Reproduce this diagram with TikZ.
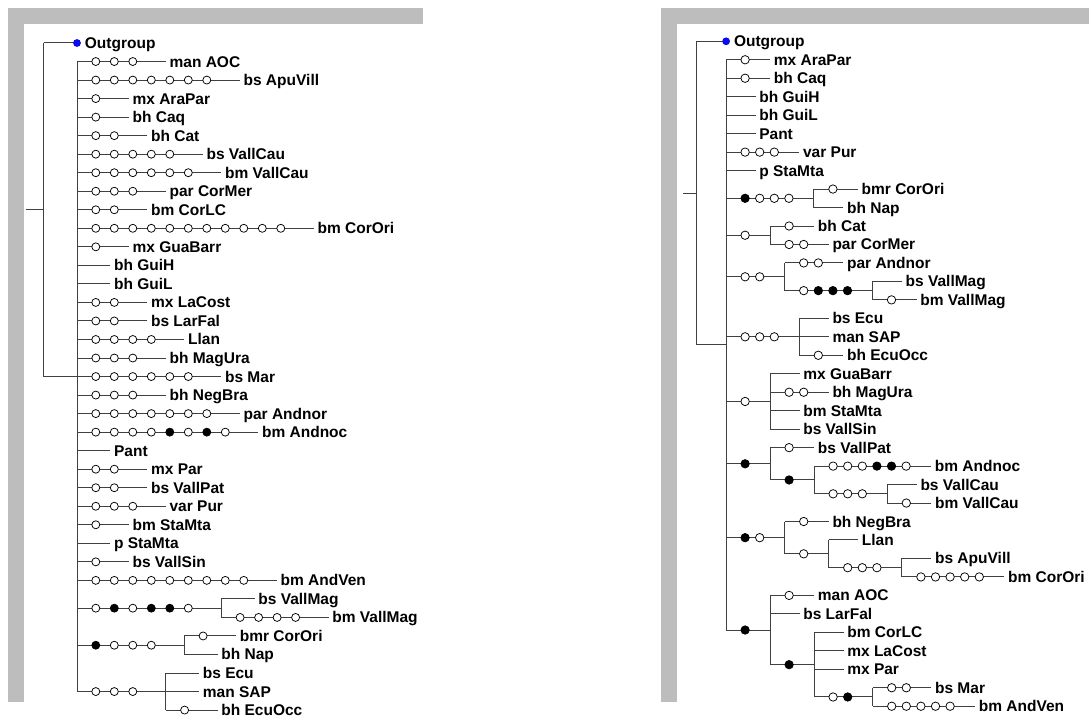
\documentclass[tikz,border=0pt]{standalone}
\usepackage{fontspec}
\setmainfont{Liberation Sans}
\definecolor{linegray}{RGB}{64,64,64}
\definecolor{framegray}{RGB}{189,189,189}
\definecolor{outblue}{RGB}{10,10,235}

% Xend<name>: x where the branch <name> ends
\newcommand\Xof[1]{\csname Xend#1\endcsname}

% \Twig{name}{x0}{row}{number of marks}{mark styles}
% horizontal branch starting at x0, with its character marks
\newcommand\Twig[5]{%
  \pgfmathsetmacro\ty{\RowY+\RowH*(#3)}%
  \pgfmathsetmacro\tx{#2+\CirA+\CirS*((#4)-1)+\CirT}%
  \expandafter\xdef\csname Xend#1\endcsname{\tx}%
  \coordinate (#1-a) at (#2,\ty);
  \coordinate (#1-b) at (\tx,\ty);
  \draw[edge] (#1-a) -- (#1-b);
  \ifnum#4>0
    \foreach \st [count=\k] in {#5}{%
      \node[\st] (#1-\k) at ({#2+\CirA+\CirS*(\k-1)},\ty) {};}
  \fi
}

% \Leaf{name}{x0}{row}{number of marks}{mark styles}{taxon}
\newcommand\Leaf[6]{%
  \Twig{#1}{#2}{#3}{#4}{#5}
  \node[taxon] (#1-t) at (#1-b) {#6};
}

\begin{document}
\begin{tikzpicture}[x=1pt,y=-1pt,
  edge/.style={draw=linegray,line width=1pt},
  oc/.style={circle,draw=black,fill=white,line width=0.75pt,inner sep=0pt,minimum size=\CirD pt},
  fc/.style={circle,draw=black,fill=black,line width=0.75pt,inner sep=0pt,minimum size=\CirD pt},
  outdot/.style={circle,fill=outblue,inner sep=0pt,minimum size=7.8pt},
  taxon/.style={anchor=base west,inner sep=0pt,xshift=3.6pt,yshift=-5.5pt,
    font=\bfseries\fontsize{15.5}{18}\selectfont},
  frame/.style={fill=framegray,draw=none}]

\useasboundingbox (0,0) rectangle (1089,717);

% frames
\fill[frame] (8,8) rectangle (423,24);
\fill[frame] (8,8) rectangle (24,702);
\fill[frame] (661,8) rectangle (1089,24);
\fill[frame] (661,8) rectangle (677,702);

% ---------------- left tree ----------------
\begin{scope}
\def\RowY{43}\def\RowH{18.53}
\def\CirA{18.8}\def\CirS{18.5}\def\CirT{33}\def\CirD{8}

\Twig{Lout}{43.7}{0}{0}{}
\Twig{Lin}{43.7}{18}{0}{}
\coordinate (Lroot) at (43.7,{\RowY+\RowH*9});
\coordinate (Lbase) at (26,{\RowY+\RowH*9});
\draw[edge] (Lbase) -- (Lroot);
\draw[edge] (Lout-a) -- (Lin-a);
\node[outdot] (Lout-d) at (Lout-b) {};
\node[taxon] (Lout-t) at (Lout-d.east) {Outgroup};

\Leaf{Laoc}{\Xof{Lin}}{1}{3}{oc,oc,oc}{man AOC}
\Leaf{Lapu}{\Xof{Lin}}{2}{7}{oc,oc,oc,oc,oc,oc,oc}{bs ApuVill}
\Leaf{Lara}{\Xof{Lin}}{3}{1}{oc}{mx AraPar}
\Leaf{Lcaq}{\Xof{Lin}}{4}{1}{oc}{bh Caq}
\Leaf{Lcat}{\Xof{Lin}}{5}{2}{oc,oc}{bh Cat}
\Leaf{Lvcs}{\Xof{Lin}}{6}{5}{oc,oc,oc,oc,oc}{bs VallCau}
\Leaf{Lvcm}{\Xof{Lin}}{7}{6}{oc,oc,oc,oc,oc,oc}{bm VallCau}
\Leaf{Lcme}{\Xof{Lin}}{8}{3}{oc,oc,oc}{par CorMer}
\Leaf{Lclc}{\Xof{Lin}}{9}{2}{oc,oc}{bm CorLC}
\Leaf{Lcor}{\Xof{Lin}}{10}{11}{oc,oc,oc,oc,oc,oc,oc,oc,oc,oc,oc}{bm CorOri}
\Leaf{Lgua}{\Xof{Lin}}{11}{1}{oc}{mx GuaBarr}
\Leaf{Lgh}{\Xof{Lin}}{12}{0}{}{bh GuiH}
\Leaf{Lgl}{\Xof{Lin}}{13}{0}{}{bh GuiL}
\Leaf{Llac}{\Xof{Lin}}{14}{2}{oc,oc}{mx LaCost}
\Leaf{Llar}{\Xof{Lin}}{15}{2}{oc,oc}{bs LarFal}
\Leaf{Llla}{\Xof{Lin}}{16}{4}{oc,oc,oc,oc}{Llan}
\Leaf{Lmag}{\Xof{Lin}}{17}{3}{oc,oc,oc}{bh MagUra}
\Leaf{Lmar}{\Xof{Lin}}{18}{6}{oc,oc,oc,oc,oc,oc}{bs Mar}
\Leaf{Lneg}{\Xof{Lin}}{19}{3}{oc,oc,oc}{bh NegBra}
\Leaf{Lanr}{\Xof{Lin}}{20}{7}{oc,oc,oc,oc,oc,oc,oc}{par Andnor}
\Leaf{Lanc}{\Xof{Lin}}{21}{8}{oc,oc,oc,oc,fc,oc,fc,oc}{bm Andnoc}
\Leaf{Lpan}{\Xof{Lin}}{22}{0}{}{Pant}
\Leaf{Lpar}{\Xof{Lin}}{23}{2}{oc,oc}{mx Par}
\Leaf{Lvpa}{\Xof{Lin}}{24}{2}{oc,oc}{bs VallPat}
\Leaf{Lpur}{\Xof{Lin}}{25}{3}{oc,oc,oc}{var Pur}
\Leaf{Lsbm}{\Xof{Lin}}{26}{1}{oc}{bm StaMta}
\Leaf{Lsp}{\Xof{Lin}}{27}{0}{}{p StaMta}
\Leaf{Lvsi}{\Xof{Lin}}{28}{1}{oc}{bs VallSin}
\Leaf{Lave}{\Xof{Lin}}{29}{9}{oc,oc,oc,oc,oc,oc,oc,oc,oc}{bm AndVen}

\Twig{Lvm}{\Xof{Lin}}{30.5}{6}{oc,fc,oc,fc,fc,oc}
\Leaf{Lvms}{\Xof{Lvm}}{30}{0}{}{bs VallMag}
\Leaf{Lvmm}{\Xof{Lvm}}{31}{4}{oc,oc,oc,oc}{bm VallMag}
\draw[edge] (Lvms-a) -- (Lvmm-a);

\Twig{Lcn}{\Xof{Lin}}{32.5}{4}{fc,oc,oc,oc}
\Leaf{Lbmr}{\Xof{Lcn}}{32}{1}{oc}{bmr CorOri}
\Leaf{Lnap}{\Xof{Lcn}}{33}{0}{}{bh Nap}
\draw[edge] (Lbmr-a) -- (Lnap-a);

\Twig{Lecu}{\Xof{Lin}}{35}{3}{oc,oc,oc}
\Leaf{Lecs}{\Xof{Lecu}}{34}{0}{}{bs Ecu}
\Leaf{Lsap}{\Xof{Lecu}}{35}{0}{}{man SAP}
\Leaf{Leco}{\Xof{Lecu}}{36}{1}{oc}{bh EcuOcc}
\draw[edge] (Lecs-a) -- (Leco-a);

\draw[edge] (Laoc-a) -- (Lecu-a);
\end{scope}

% ---------------- right tree ----------------
\begin{scope}
\def\RowY{41.3}\def\RowH{18.47}
\def\CirA{19}\def\CirS{14.6}\def\CirT{25}\def\CirD{8.4}

\Twig{Rout}{696.7}{0}{0}{}
\Twig{Rin}{696.7}{16.4375}{0}{}
\coordinate (Rroot) at (696.7,{\RowY+\RowH*8.21875});
\coordinate (Rbase) at (683,{\RowY+\RowH*8.21875});
\draw[edge] (Rbase) -- (Rroot);
\draw[edge] (Rout-a) -- (Rin-a);
\node[outdot] (Rout-d) at (Rout-b) {};
\node[taxon] (Rout-t) at (Rout-d.east) {Outgroup};

\Leaf{Rara}{\Xof{Rin}}{1}{1}{oc}{mx AraPar}
\Leaf{Rcaq}{\Xof{Rin}}{2}{1}{oc}{bh Caq}
\Leaf{Rgh}{\Xof{Rin}}{3}{0}{}{bh GuiH}
\Leaf{Rgl}{\Xof{Rin}}{4}{0}{}{bh GuiL}
\Leaf{Rpan}{\Xof{Rin}}{5}{0}{}{Pant}
\Leaf{Rpur}{\Xof{Rin}}{6}{3}{oc,oc,oc}{var Pur}
\Leaf{Rsp}{\Xof{Rin}}{7}{0}{}{p StaMta}

\Twig{RA}{\Xof{Rin}}{8.5}{4}{fc,oc,oc,oc}
\Leaf{Rbmr}{\Xof{RA}}{8}{1}{oc}{bmr CorOri}
\Leaf{Rnap}{\Xof{RA}}{9}{0}{}{bh Nap}
\draw[edge] (Rbmr-a) -- (Rnap-a);

\Twig{RB}{\Xof{Rin}}{10.5}{1}{oc}
\Leaf{Rcat}{\Xof{RB}}{10}{1}{oc}{bh Cat}
\Leaf{Rcme}{\Xof{RB}}{11}{2}{oc,oc}{par CorMer}
\draw[edge] (Rcat-a) -- (Rcme-a);

\Twig{RC}{\Xof{Rin}}{12.75}{2}{oc,oc}
\Leaf{Ranr}{\Xof{RC}}{12}{2}{oc,oc}{par Andnor}
\Twig{RD}{\Xof{RC}}{13.5}{4}{oc,fc,fc,fc}
\Leaf{Rvms}{\Xof{RD}}{13}{0}{}{bs VallMag}
\Leaf{Rvmm}{\Xof{RD}}{14}{1}{oc}{bm VallMag}
\draw[edge] (Rvms-a) -- (Rvmm-a);
\draw[edge] (Ranr-a) -- (RD-a);

\Twig{RE}{\Xof{Rin}}{16}{3}{oc,oc,oc}
\Leaf{Recs}{\Xof{RE}}{15}{0}{}{bs Ecu}
\Leaf{Rsap}{\Xof{RE}}{16}{0}{}{man SAP}
\Leaf{Reco}{\Xof{RE}}{17}{1}{oc}{bh EcuOcc}
\draw[edge] (Recs-a) -- (Reco-a);

\Twig{RF}{\Xof{Rin}}{19.5}{1}{oc}
\Leaf{Rgua}{\Xof{RF}}{18}{0}{}{mx GuaBarr}
\Leaf{Rmag}{\Xof{RF}}{19}{2}{oc,oc}{bh MagUra}
\Leaf{Rsbm}{\Xof{RF}}{20}{0}{}{bm StaMta}
\Leaf{Rvsi}{\Xof{RF}}{21}{0}{}{bs VallSin}
\draw[edge] (Rgua-a) -- (Rvsi-a);

\Twig{RG}{\Xof{Rin}}{22.875}{1}{fc}
\Leaf{Rvpa}{\Xof{RG}}{22}{1}{oc}{bs VallPat}
\Twig{RH}{\Xof{RG}}{23.75}{1}{fc}
\Leaf{Ranc}{\Xof{RH}}{23}{6}{oc,oc,oc,fc,fc,oc}{bm Andnoc}
\Twig{RI}{\Xof{RH}}{24.5}{3}{oc,oc,oc}
\Leaf{Rvcs}{\Xof{RI}}{24}{0}{}{bs VallCau}
\Leaf{Rvcm}{\Xof{RI}}{25}{1}{oc}{bm VallCau}
\draw[edge] (Rvcs-a) -- (Rvcm-a);
\draw[edge] (Ranc-a) -- (RI-a);
\draw[edge] (Rvpa-a) -- (RH-a);

\Twig{RJ}{\Xof{Rin}}{26.875}{2}{fc,oc}
\Leaf{Rneg}{\Xof{RJ}}{26}{1}{oc}{bh NegBra}
\Twig{RK}{\Xof{RJ}}{27.75}{1}{oc}
\Leaf{Rlla}{\Xof{RK}}{27}{0}{}{Llan}
\Twig{RL}{\Xof{RK}}{28.5}{3}{oc,oc,oc}
\Leaf{Rapu}{\Xof{RL}}{28}{0}{}{bs ApuVill}
\Leaf{Rcor}{\Xof{RL}}{29}{5}{oc,oc,oc,oc,oc}{bm CorOri}
\draw[edge] (Rapu-a) -- (Rcor-a);
\draw[edge] (Rlla-a) -- (RL-a);
\draw[edge] (Rneg-a) -- (RK-a);

\Twig{RM}{\Xof{Rin}}{31.875}{1}{fc}
\Leaf{Raoc}{\Xof{RM}}{30}{1}{oc}{man AOC}
\Leaf{Rlar}{\Xof{RM}}{31}{0}{}{bs LarFal}
\Twig{RN}{\Xof{RM}}{33.75}{1}{fc}
\Leaf{Rclc}{\Xof{RN}}{32}{0}{}{bm CorLC}
\Leaf{Rlac}{\Xof{RN}}{33}{0}{}{mx LaCost}
\Leaf{Rpar}{\Xof{RN}}{34}{0}{}{mx Par}
\Twig{RO}{\Xof{RN}}{35.5}{2}{oc,fc}
\Leaf{Rmar}{\Xof{RO}}{35}{2}{oc,oc}{bs Mar}
\Leaf{Rave}{\Xof{RO}}{36}{5}{oc,oc,oc,oc,oc}{bm AndVen}
\draw[edge] (Rmar-a) -- (Rave-a);
\draw[edge] (Rclc-a) -- (RO-a);
\draw[edge] (Raoc-a) -- (RN-a);

\draw[edge] (Rara-a) -- (RM-a);
\end{scope}
\end{tikzpicture}
\end{document}
